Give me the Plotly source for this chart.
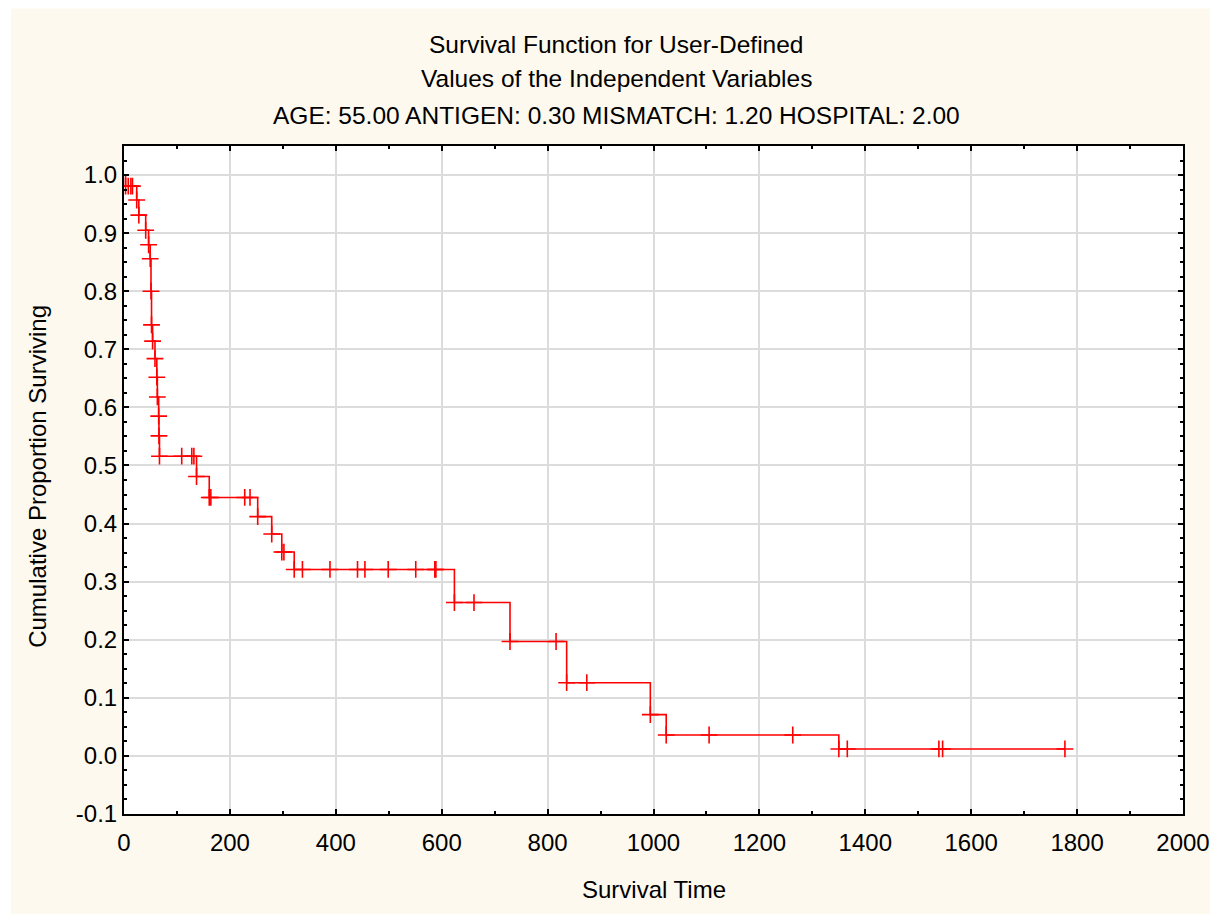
import numpy as np
import plotly.graph_objects as go

# Kaplan-Meier style step function
step_times = [0, 3, 24, 28, 41, 46.5, 49.5, 51, 52, 54, 58.5, 62, 63, 65.5, 66, 67,
              137, 161, 252.5, 279, 298, 321.5, 624, 729, 836, 994, 1024, 1350]
step_surv = [1.0, 0.981, 0.957, 0.931, 0.905, 0.880, 0.856, 0.800, 0.742, 0.714,
             0.684, 0.652, 0.618, 0.585, 0.551, 0.516, 0.481, 0.445, 0.412, 0.382,
             0.351, 0.321, 0.264, 0.197, 0.126, 0.071, 0.036, 0.012]
end_time = 1777

# censored observations (marked with +)
censor_times = [8, 13, 16, 109, 128, 132, 164, 228, 238, 302, 337, 389, 441, 455,
                499, 551, 587, 589, 661, 816, 874, 1105, 1263, 1366, 1539, 1546, 1777]

title_lines = ["Survival Function for User-Defined",
               "Values of the Independent Variables",
               "AGE: 55.00 ANTIGEN: 0.30 MISMATCH: 1.20 HOSPITAL: 2.00"]
x_title = "Survival Time"
y_title = "Cumulative Proportion Surviving"

x_ticks = [0, 200, 400, 600, 800, 1000, 1200, 1400, 1600, 1800, 2000]
y_ticks = [-0.1, 0.0, 0.1, 0.2, 0.3, 0.4, 0.5, 0.6, 0.7, 0.8, 0.9, 1.0]

RED = "#FF0000"
CREAM = "#FEF9EE"
FONT = "Arial, Liberation Sans, sans-serif"

st = np.array(step_times, dtype=float)
ss = np.array(step_surv, dtype=float)
ct = np.array(censor_times, dtype=float)
idx = np.searchsorted(st, ct, side="right") - 1
cs = ss[idx]

line_x = list(st) + [end_time]
line_y = list(ss) + [ss[-1]]

mark_x = list(st[1:]) + list(ct)
mark_y = list(ss[1:]) + list(cs)

fig = go.Figure()
fig.add_trace(go.Scatter(x=line_x, y=line_y, mode="lines", line_shape="hv",
                         line=dict(color=RED, width=1.6), hoverinfo="skip",
                         showlegend=False))
fig.add_trace(go.Scatter(x=mark_x, y=mark_y, mode="markers",
                         marker=dict(symbol="cross-thin", size=12,
                                     line=dict(color=RED, width=1.6)),
                         showlegend=False))

axis_common = dict(showline=True, linecolor="black", linewidth=2, mirror="ticks",
                   ticks="inside", ticklen=5, tickwidth=2, tickcolor="black",
                   showgrid=True, gridcolor="#DCDCDC", gridwidth=2,
                   zeroline=False, tickfont=dict(family=FONT, size=24, color="black"))

fig.update_xaxes(range=[0, 2000], tickvals=x_ticks, ticktext=[str(v) for v in x_ticks],
                 ticklabelstandoff=6,
                 minor=dict(dtick=100, ticks="inside", ticklen=3, tickwidth=1.5,
                            tickcolor="black", showgrid=False),
                 **axis_common)
fig.update_yaxes(range=[-0.1, 1.05], tickvals=y_ticks,
                 ticktext=[f"{v:.1f}" for v in y_ticks],
                 minor=dict(dtick=0.025, tick0=0, ticks="inside", ticklen=3, tickwidth=1.5,
                            tickcolor="black", showgrid=False),
                 **axis_common)

annotations = []
for i, (txt, yy) in enumerate(zip(title_lines, [1.152, 1.101, 1.046])):
    annotations.append(dict(text=txt, x=0.4646, y=yy, xref="paper", yref="paper",
                            showarrow=False, xanchor="center", yanchor="middle",
                            font=dict(family=FONT, size=24.5, color="black")))
annotations.append(dict(text=x_title, x=0.5, y=-0.1137, xref="paper", yref="paper",
                        showarrow=False, xanchor="center", yanchor="middle",
                        font=dict(family=FONT, size=24, color="black")))
annotations.append(dict(text=y_title, x=-0.082, y=0.505, xref="paper", yref="paper",
                        showarrow=False, xanchor="center", yanchor="middle", textangle=-90,
                        font=dict(family=FONT, size=24, color="black")))

shapes = [
    dict(type="rect", xref="paper", yref="paper", x0=-0.2, x1=-0.1067, y0=-0.3, y1=1.4,
         fillcolor="white", line=dict(width=0), layer="below"),
    dict(type="rect", xref="paper", yref="paper", x0=-0.2, x1=1.2, y0=1.206, y1=1.4,
         fillcolor="white", line=dict(width=0), layer="below"),
]

fig.update_layout(width=1210, height=914, paper_bgcolor=CREAM, plot_bgcolor="white",
                  margin=dict(l=124, r=27, t=146, b=100, autoexpand=False),
                  annotations=annotations, shapes=shapes,
                  font=dict(family=FONT, size=24, color="black"), showlegend=False)

fig.write_html("out.html",
               config={"displayModeBar": False},
               post_script="document.body.style.margin='0';"
                           "document.body.style.overflow='hidden';")
